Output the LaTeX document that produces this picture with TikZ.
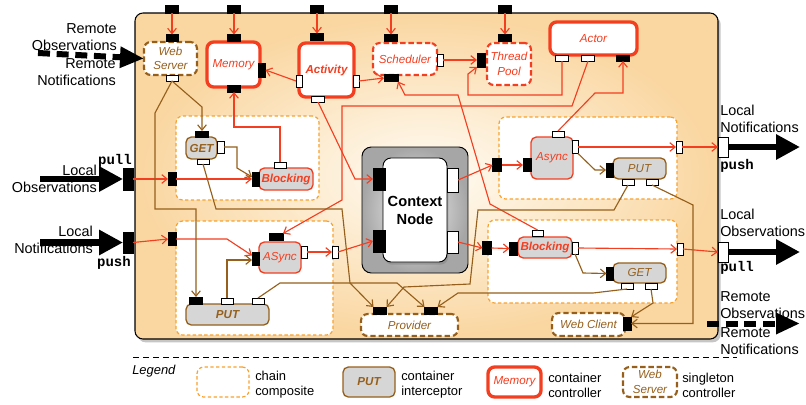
\documentclass[tikz,border=0pt]{standalone}
\usepackage{fontspec}
\setmainfont{Liberation Sans}
\setmonofont{Liberation Mono}
\usetikzlibrary{arrows.meta,shadows,calc}
\definecolor{redc}{RGB}{244,62,32}
\definecolor{brownc}{RGB}{150,96,28}
\definecolor{orangec}{RGB}{248,162,45}
\definecolor{grayc}{RGB}{214,214,214}
\definecolor{shout}{RGB}{250,214,160}
\definecolor{shin}{RGB}{255,252,245}
\newcommand{\lblf}{\fontsize{8.7}{11}\selectfont}
\newcommand{\outf}{\fontsize{10.8}{12.9}\selectfont}
\newcommand{\legf}{\fontsize{9.7}{11.3}\selectfont}
\tikzset{
 sz/.style 2 args={minimum width=#1*0.75pt,minimum height=#2*0.75pt,inner sep=0pt,outer sep=0pt},
 bport/.style={draw=black,fill=black,line width=0.5pt},
 wport/.style={draw=black,fill=white,line width=0.7pt},
 ctrl/.style={draw=redc,line width=2.5pt,fill=white,rounded corners=5pt,text=redc,font=\lblf\itshape},
 rsing/.style={draw=redc,line width=1.6pt,dash pattern=on 4pt off 2.2pt,fill=white,rounded corners=5pt,text=redc,font=\lblf\itshape,align=center},
 bsing/.style={draw=brownc,line width=1.6pt,dash pattern=on 4pt off 2.2pt,fill=white,rounded corners=5pt,text=brownc,font=\lblf\itshape,align=center},
 icpt/.style={draw=brownc,line width=1pt,fill=grayc,rounded corners=4pt,text=brownc,font=\lblf\itshape},
 icptr/.style={draw=redc,line width=1pt,fill=grayc,rounded corners=4pt,text=redc,font=\lblf\itshape},
 chain/.style={draw=orangec,line width=0.9pt,dash pattern=on 2.5pt off 1.8pt,fill=white,rounded corners=5pt},
 redarr/.style={draw=redc,line width=0.85pt,-{Straight Barb[length=4pt,width=6.5pt]}},
 brarr/.style={draw=brownc,line width=0.85pt,-{Straight Barb[length=4pt,width=6.5pt]}},
 bigarr/.style={draw=black,line width=5pt,-{Triangle[length=18pt,width=18pt]}},
 bigdash/.style={draw=black,line width=4.5pt,dash pattern=on 9pt off 5pt,-{Triangle[length=18pt,width=15pt]}},
 outl/.style={font=\outf,inner sep=0pt},
 pullf/.style={font=\fontsize{10.5}{12}\selectfont\ttfamily\bfseries,inner sep=0pt},
 legt/.style={font=\legf,inner sep=0pt,anchor=west,align=left},
}
\begin{document}
\begin{tikzpicture}[x=0.75pt,y=-0.75pt]
\useasboundingbox (0,0) rectangle (806,404);
% container
\node[draw=black,line width=0.8pt,rounded corners=6pt,sz={583}{326},inner color=shin,outer color=shout,
  drop shadow={shadow xshift=2pt,shadow yshift=-2.5pt,opacity=0.45}] (main) at (426.5,176) {};
% chains
\node[chain,sz={143}{84}] (ch1) at (247.5,158) {};
\node[chain,sz={157}{114}] (ch2) at (254.5,278) {};
\node[chain,sz={178}{82}] (ch3) at (588,158) {};
\node[chain,sz={189}{83}] (ch4) at (582.5,261.5) {};
% context node
\node[draw=black,line width=0.7pt,rounded corners=7pt,sz={106}{126},shading=radial,inner color=gray!8,outer color=gray!70] (ctxo) at (415,210) {};
\node[draw=black,line width=0.7pt,rounded corners=6pt,fill=white,sz={64}{104},align=center,
  font=\fontsize{11}{13.5}\selectfont\bfseries,drop shadow={shadow xshift=1pt,shadow yshift=-2pt,opacity=0.5}] (ctx) at (415,210) {Context\\Node};
\node[bport,sz={12}{22}] (ctx-l1) at (379,179) {};
\node[bport,sz={12}{22}] (ctx-l2) at (379,241) {};
\node[wport,sz={11}{24}] (ctx-r1) at (452.5,180) {};
\node[wport,sz={11}{22}] (ctx-r2) at (452.5,242) {};
% top edge ports
\node[bport,sz={13}{8}] (tp1) at (172,9) {};
\node[bport,sz={13}{8}] (tp2) at (234,9) {};
\node[bport,sz={13}{8}] (tp3) at (317,9) {};
\node[bport,sz={13}{8}] (tp4) at (391,9) {};
\node[bport,sz={13}{8}] (tp5) at (505,9) {};
% web server
\node[bsing,sz={53}{33}] (ws) at (170.5,58.5) {Web\\Server};
\node[bport,sz={12}{7}] (ws-t) at (172,38) {};
\node[wport,sz={12}{6}] (ws-b) at (172,78) {};
% memory
\node[ctrl,sz={53}{45}] (mem) at (233.5,64.5) {Memory};
\node[bport,sz={13}{7}] (mem-t) at (234,38) {};
\node[bport,sz={7}{14}] (mem-r) at (262,70) {};
\node[bport,sz={13}{7}] (mem-b) at (234,88.5) {};
% activity
\node[ctrl,sz={55}{54},font=\lblf\bfseries\itshape] (act) at (326.5,70) {Activity};
\node[bport,sz={13}{7}] (act-t) at (317,37) {};
\node[wport,sz={6}{12}] (act-l) at (299,81) {};
\node[wport,sz={6}{12}] (act-r) at (356,81) {};
\node[wport,sz={13}{6}] (act-b) at (318,99) {};
% scheduler
\node[rsing,sz={64}{32}] (sch) at (405,59) {Scheduler};
\node[bport,sz={13}{7}] (sch-t) at (391,38) {};
\node[wport,sz={6}{12}] (sch-r) at (440,60) {};
\node[bport,sz={14}{7}] (sch-b) at (391,78) {};
% thread pool
\node[rsing,sz={44}{42}] (tpool) at (509,64) {Thread\\Pool};
\node[bport,sz={13}{7}] (tpool-t) at (505,38) {};
\node[bport,sz={8}{14}] (tpool-l) at (481,60) {};
% actor
\node[ctrl,sz={87}{33}] (actor) at (593.5,38.5) {Actor};
\node[wport,sz={13}{6}] (actor-p1) at (562,58) {};
\node[wport,sz={13}{6}] (actor-p2) at (588,58) {};
\node[bport,sz={13}{6}] (actor-p3) at (623,58) {};
% chain ports
\node[bport,sz={8}{13}] (ch1-in) at (172,179) {};
\node[bport,sz={8}{13}] (ch2-in) at (172,239) {};
\node[bport,sz={9}{13}] (ch3-in) at (497,165) {};
\node[bport,sz={9}{13}] (ch4-in) at (487,248) {};
\node[wport,sz={6}{12}] (ch2-out) at (335,252) {};
\node[wport,sz={6}{12}] (ch3-out) at (679,147) {};
\node[wport,sz={6}{12}] (ch4-out) at (680,249) {};
% GET 1
\node[icpt,sz={31}{22},font=\lblf\bfseries\itshape] (get1) at (201.5,148) {GET};
\node[bport,sz={13}{6}] (get1-t) at (202,134) {};
\node[wport,sz={7}{12}] (get1-r) at (220.5,147) {};
\node[wport,sz={12}{5}] (get1-b) at (203,161.5) {};
% Blocking 1
\node[icptr,sz={54}{22},font=\lblf\bfseries\itshape] (blk1) at (286,179) {Blocking};
\node[bport,sz={7}{14}] (blk1-l) at (255.5,179) {};
\node[wport,sz={12}{6}] (blk1-t) at (280,165) {};
% ASync 1
\node[icptr,sz={42}{31}] (asy1) at (280,257.5) {ASync};
\node[bport,sz={7}{13}] (asy1-l) at (255.5,258.5) {};
\node[bport,sz={14}{7}] (asy1-t) at (276,237) {};
\node[wport,sz={6}{12}] (asy1-r) at (304,252) {};
% PUT 1
\node[icpt,sz={83}{21},font=\lblf\bfseries\itshape] (put1) at (227.5,314.5) {PUT};
\node[bport,sz={13}{7}] (put1-p1) at (196,300.5) {};
\node[wport,sz={12}{6}] (put1-p2) at (227,301) {};
\node[wport,sz={12}{6}] (put1-p3) at (258,301) {};
% Async 2
\node[icptr,sz={42}{42}] (asy2) at (552,158) {Async};
\node[bport,sz={8}{13}] (asy2-l) at (527,165) {};
\node[wport,sz={12}{6}] (asy2-t) at (558,134) {};
\node[wport,sz={6}{13}] (asy2-r) at (575,147) {};
% PUT 2
\node[icpt,sz={53}{21}] (put2) at (639.5,168.5) {PUT};
\node[bport,sz={7}{14}] (put2-l) at (609.5,170) {};
\node[wport,sz={12}{6}] (put2-b1) at (628,182) {};
\node[wport,sz={12}{6}] (put2-b2) at (652,182) {};
% Blocking 2
\node[icptr,sz={54}{21},font=\lblf\bfseries\itshape] (blk2) at (545,247.5) {Blocking};
\node[bport,sz={8}{13}] (blk2-l) at (513.5,248.5) {};
\node[wport,sz={11}{6}] (blk2-t) at (537.5,233) {};
\node[wport,sz={6}{12}] (blk2-r) at (575,248) {};
% GET 2
\node[icpt,sz={53}{20}] (get2) at (639.5,273) {GET};
\node[bport,sz={7}{13}] (get2-l) at (610,273.5) {};
\node[wport,sz={12}{6}] (get2-b1) at (627,286) {};
\node[wport,sz={12}{6}] (get2-b2) at (651,286) {};
% Provider, Web Client
\node[bsing,sz={97}{22}] (prov) at (409.5,325) {Provider};
\node[bport,sz={13}{7}] (prov-p1) at (380,310.5) {};
\node[bport,sz={13}{7}] (prov-p2) at (431,310.5) {};
\node[bsing,sz={73}{23}] (wc) at (588.5,324.5) {Web Client};
\node[bport,sz={8}{13}] (wc-r) at (627,323.5) {};
% container ports
\node[bport,sz={10}{22}] (cp-l1) at (128,179) {};
\node[bport,sz={10}{21}] (cp-l2) at (128,242.5) {};
\node[wport,sz={10}{20}] (cp-r1) at (723,147) {};
\node[wport,sz={10}{20}] (cp-r2) at (723,252) {};
% red connectors
\draw[redarr] (tp1) -- (ws-t);
\draw[redarr] (tp2) -- (mem-t);
\draw[redarr] (tp3) -- (act-t);
\draw[redarr] (tp4) -- (sch-t);
\draw[redarr] (tp5) -- (tpool-t);
\draw[redarr] (sch-r) -- (tpool-l);
\draw[redarr] (act-r.east) -- (sch-b.west);
\draw[redarr] (act-l.west) -- (mem-r.east);
\draw[redarr] (act-b.south) -- (355,179) -- (ctx-l1.west);
\draw[redarr] (blk1-t.north) -- (280,127) -- (234,127) -- (mem-b.south);
\draw[redarr] (actor-p1.south) -- (562,95) -- (468,95) -- (468,74) -- (tpool-l.south west);
\draw[redarr] (actor-p2.south) -- (572,106) -- (342,106) -- (342,200) -- (asy1-t.north east);
\draw[redarr] (asy2-t.north) -- (595,93) -- (623,93) -- (actor-p3.south);
\draw[redarr] (blk2-t.north) -- (490,204) -- (458,95) -- (405,95) -- (sch-b.south east);
\draw[redarr] (cp-l1.east) -- (ch1-in.west);
\draw[redarr] (ch1-in.east) -- (blk1-l.west);
\draw[redarr] (cp-l2.east) -- (ch2-in.west);
\draw[redarr] (ch2-in.east) -- (227,239) -- ($(asy1-l.west)+(0,-3)$);
\draw[redarr] (asy1-r.east) -- (ch2-out.west);
\draw[redarr] (ch2-out.east) -- (ctx-l2.west);
\draw[redarr] (ctx-r1.east) -- (ch3-in.west);
\draw[redarr] (ctx-r2.east) -- (ch4-in.west);
\draw[redarr] (ch3-in.east) -- (asy2-l.west);
\draw[redarr] (asy2-r.east) -- (ch3-out.west);
\draw[redarr] (ch3-out.east) -- (cp-r1.west);
\draw[redarr] (ch4-in.east) -- (blk2-l.west);
\draw[redarr] (blk2-r.east) -- (ch4-out.west);
\draw[redarr] (ch4-out.east) -- (cp-r2.west);
% brown connectors
\draw[brarr] (ws-b.south) -- (202,107) -- (get1-t.north);
\draw[brarr] (ws-b.south) -- (155,113) -- (155,209) -- (196,209) -- (put1-p1.north);
\draw[brarr] (get1-r.east) -- (237,147) -- (237,168) -- ($(blk1-l.west)+(0,-2)$);
\draw[brarr] (get1-b.south) -- (216,209) -- (342,209) -- (350,283) -- (prov-p1.north west);
\draw[brarr] (put1-p2.north) -- (227,260) -- ($(asy1-l.west)+(0,1.5)$);
\draw[brarr] (put1-p3.north) -- (280,283) -- (397,283) -- (prov-p2.north west);
\draw[brarr] (asy2-r.south east) -- (595,170) -- (put2-l.west);
\draw[brarr] (put2-b1.south) -- (614,210) -- (478,210) -- (470,284) -- (404,287) -- (prov-p1.north east);
\draw[brarr] (put2-b2.south) -- (693,205) -- (693,323.5) -- (wc-r.east);
\draw[brarr] (blk2-r.south) -- (583,273) -- (get2-l.west);
\draw[brarr] (get2-b1.south) -- (593,293) -- (458,293) -- (prov-p2.north east);
\draw[brarr] (get2-b2.south) -- (653,303) -- (wc-r.north east);
% big arrows
\coordinate (e1) at (40,179);
\coordinate (e2) at (40,242.5);
\coordinate (e3) at (800,147);
\coordinate (e4) at (800,252);
\coordinate (e5) at (38,53);
\coordinate (e6) at (707,323.5);
\coordinate (e7) at (800,323.5);
\draw[bigarr] (e1) -- (cp-l1.west);
\draw[bigarr] (e2) -- (cp-l2.west);
\draw[bigarr] (cp-r1.east) -- (e3);
\draw[bigarr] (cp-r2.east) -- (e4);
\draw[bigdash] (e5) -- (ws.west);
\draw[bigdash] (e6) -- (e7);
% outer labels
\node[outl,anchor=east,align=right] (t-ro) at (117,37) {Remote\\Observations};
\node[outl,anchor=east,align=right] (t-rn) at (116,72) {Remote\\Notifications};
\node[outl,anchor=east,align=right] (t-lo) at (97,179) {Local\\Observations};
\node[pullf] (t-pull1) at (115,161) {pull};
\node[outl,anchor=east,align=right] (t-ln) at (93,240) {Local\\Notifications};
\node[pullf] (t-push1) at (114,263) {push};
\node[outl,anchor=west,align=left] (t-ln2) at (720,119) {Local\\Notifications};
\node[pullf,anchor=west] (t-push2) at (720,166) {push};
\node[outl,anchor=west,align=left] (t-lo2) at (720,223) {Local\\Observations};
\node[pullf,anchor=west] (t-pull2) at (720,268) {pull};
\node[outl,anchor=west,align=left] (t-ro2) at (720,305.5) {Remote\\Observations};
\node[outl,anchor=west,align=left] (t-rn2) at (720,341.5) {Remote\\Notifications};
% legend
\draw[line width=0.6pt,dash pattern=on 4.5pt off 3pt] (133,357) -- (737,357);
\node[font=\legf\itshape,anchor=west,inner sep=0pt] (leg) at (132,371) {Legend};
\node[chain,sz={52}{30}] (lg1) at (223,382) {};
\node[legt] (lg1t) at (255,385) {chain\\composite};
\node[icpt,sz={52}{30},font=\lblf\bfseries\itshape] (lg2) at (369,382) {PUT};
\node[legt] (lg2t) at (401,385) {container\\interceptor};
\node[ctrl,sz={53}{30}] (lg3) at (514.5,382) {Memory};
\node[legt] (lg3t) at (548,385) {container\\controller};
\node[bsing,sz={54}{30}] (lg4) at (650,382) {Web\\Server};
\node[legt] (lg4t) at (682,385) {singleton\\controller};
\end{tikzpicture}
\end{document}
